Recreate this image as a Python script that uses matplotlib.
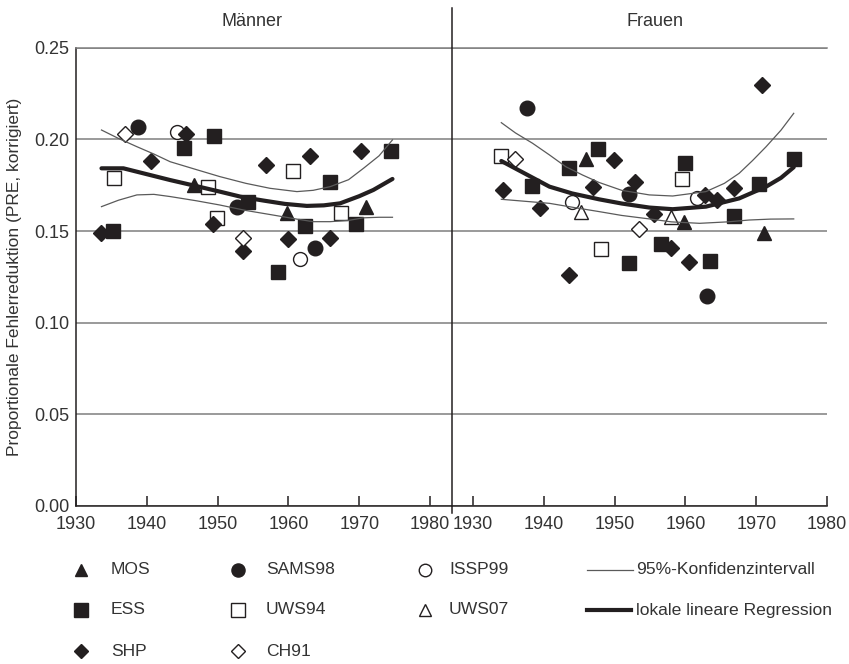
import matplotlib.pyplot as plt
from matplotlib.lines import Line2D

plt.rcParams['font.family'] = ['Liberation Sans', 'DejaVu Sans']

# Männer: (Geburtsjahr, PRE)
men_mos = [(1946.7, 0.175), (1959.8, 0.160), (1970.9, 0.163)]
men_sams98 = [(1938.8, 0.207), (1952.8, 0.163), (1963.7, 0.141)]
men_issp99 = [(1944.3, 0.204), (1961.6, 0.135)]
men_ess = [(1935.2, 0.150), (1945.2, 0.1955), (1949.5, 0.202), (1954.3, 0.166), (1958.5, 0.1275),
           (1962.4, 0.153), (1965.9, 0.1766), (1969.5, 0.1538), (1974.5, 0.1938)]
men_uws94 = [(1935.4, 0.179), (1948.7, 0.174), (1949.9, 0.157), (1960.7, 0.1828), (1967.4, 0.160)]
men_uws07 = []
men_shp = [(1933.5, 0.149), (1940.6, 0.188), (1945.6, 0.203), (1949.4, 0.154), (1953.6, 0.139),
           (1956.9, 0.186), (1959.9, 0.1455), (1963.0, 0.191), (1965.9, 0.146), (1970.3, 0.1938)]
men_ch91 = [(1936.9, 0.203), (1953.6, 0.146)]

men_fit_year = [1933.6, 1936.7, 1940, 1943.3, 1947, 1950.3, 1953.5, 1956.5, 1959.5, 1962.6,
                1965, 1967.3, 1970, 1972, 1974.7]
men_fit = [0.1842, 0.1842, 0.181, 0.1778, 0.1745, 0.1715, 0.1685, 0.1666, 0.1648, 0.1637,
           0.164, 0.1651, 0.169, 0.1724, 0.1784]
men_ci_year = [1933.6, 1936, 1938.6, 1941, 1943.3, 1947, 1950.3, 1954, 1957.4, 1961.2,
               1963.5, 1965.9, 1968.5, 1970.6, 1972.8, 1974.7]
men_ci_hi = [0.2051, 0.2005, 0.196, 0.192, 0.1878, 0.1835, 0.1797, 0.176, 0.1733, 0.1715,
             0.1722, 0.1742, 0.178, 0.1842, 0.191, 0.1997]
men_ci_lo = [0.1633, 0.1668, 0.1697, 0.170, 0.1688, 0.1665, 0.1642, 0.1612, 0.1590, 0.1565,
             0.1551, 0.1551, 0.1558, 0.1572, 0.1575, 0.1575]

# Frauen
women_mos = [(1945.9, 0.1893), (1959.8, 0.1551), (1971.1, 0.1488)]
women_sams98 = [(1937.6, 0.2173), (1952.0, 0.1702), (1963.0, 0.1147)]
women_issp99 = [(1944.0, 0.166), (1961.6, 0.1678)]
women_ess = [(1938.4, 0.1747), (1943.5, 0.1842), (1947.6, 0.1948), (1952.0, 0.1324), (1956.6, 0.1428),
             (1960.0, 0.1873), (1963.5, 0.1338), (1966.9, 0.1584), (1970.4, 0.1755), (1975.3, 0.1891)]
women_uws94 = [(1934.0, 0.1909), (1948.1, 0.1402), (1959.5, 0.1782)]
women_uws07 = [(1945.3, 0.1606), (1957.9, 0.1578)]
women_shp = [(1934.2, 0.1724), (1939.5, 0.1624), (1943.5, 0.126), (1947.0, 0.1739), (1949.9, 0.1888),
             (1952.9, 0.1769), (1955.5, 0.1593), (1958.0, 0.1409), (1960.5, 0.1329), (1962.7, 0.1697),
             (1964.4, 0.1669), (1966.9, 0.1733), (1970.8, 0.2297)]
women_ch91 = [(1935.9, 0.1893), (1953.5, 0.1511)]

women_fit_year = [1934.0, 1937.5, 1940.8, 1944, 1947.8, 1951, 1954.9, 1958.2, 1962.9,
                  1967.6, 1971.4, 1973.5, 1975.3]
women_fit = [0.1882, 0.181, 0.1742, 0.1705, 0.1673, 0.165, 0.1628, 0.1619, 0.1633,
             0.1678, 0.1742, 0.179, 0.1848]
women_hi_year = [1934.0, 1936, 1938.4, 1940.8, 1943.1, 1945.5, 1947.8, 1951, 1954.9, 1958.2,
                 1962.9, 1965.5, 1967.6, 1969.5, 1971.4, 1973.5, 1975.3]
women_ci_hi = [0.2091, 0.2035, 0.1979, 0.1915, 0.1851, 0.1805, 0.1765, 0.1722, 0.1697, 0.1691,
               0.1715, 0.176, 0.1815, 0.1885, 0.196, 0.205, 0.2142]
women_lo_year = [1934.0, 1940.8, 1944, 1947.8, 1951, 1954.9, 1958, 1962, 1966, 1969, 1972, 1975.3]
women_ci_lo = [0.1673, 0.1651, 0.163, 0.1606, 0.1585, 0.1566, 0.155, 0.1542, 0.155, 0.156,
               0.1565, 0.1566]

ink = '#231f20'
txt = '#333333'
series_names = ['MOS', 'SAMS98', 'ISSP99', 'ESS', 'UWS94', 'UWS07', 'SHP', 'CH91']
men_series = [men_mos, men_sams98, men_issp99, men_ess, men_uws94, men_uws07, men_shp, men_ch91]
women_series = [women_mos, women_sams98, women_issp99, women_ess, women_uws94, women_uws07,
                women_shp, women_ch91]
marker_style = {
    'MOS': dict(marker='^', ms=10, mfc=ink, mec=ink),
    'SAMS98': dict(marker='o', ms=10.5, mfc=ink, mec=ink),
    'ISSP99': dict(marker='o', ms=10, mfc='white', mec=ink, mew=1.0),
    'ESS': dict(marker='s', ms=10.5, mfc=ink, mec=ink),
    'UWS94': dict(marker='s', ms=10.5, mfc='white', mec=ink, mew=1.0),
    'UWS07': dict(marker='^', ms=10, mfc='white', mec=ink, mew=1.0),
    'SHP': dict(marker='D', ms=8, mfc=ink, mec=ink),
    'CH91': dict(marker='D', ms=8, mfc='white', mec=ink, mew=1.0),
}

W, H = 849, 664
fig = plt.figure(figsize=(W / 100, H / 100), dpi=100)


def axes_px(x0, x1, y0, y1):
    return fig.add_axes([x0 / W, 1 - y1 / H, (x1 - x0) / W, (y1 - y0) / H])


ax_m = axes_px(76, 452, 47.7, 506)
ax_f = axes_px(452, 827, 47.7, 506)
ax_m.set_xlim(1930, 1930 + 376 / 7.08)
ax_f.set_xlim(1980 - 375 / 7.08, 1980)

for ax, series, fit in [
    (ax_m, men_series, [(men_ci_year, men_ci_hi), (men_ci_year, men_ci_lo), (men_fit_year, men_fit)]),
    (ax_f, women_series, [(women_hi_year, women_ci_hi), (women_lo_year, women_ci_lo), (women_fit_year, women_fit)]),
]:
    for name, pts in zip(series_names, series):
        if pts:
            xs, ys = zip(*pts)
            ax.plot(xs, ys, ls='none', zorder=3, **marker_style[name])
    ax.plot(*fit[0], color='#5a5a5a', lw=0.9, zorder=4)
    ax.plot(*fit[1], color='#5a5a5a', lw=0.9, zorder=4)
    ax.plot(*fit[2], color=ink, lw=3.0, solid_capstyle='round', zorder=5)

    ax.set_ylim(0, 0.25)
    ax.set_yticks([0, 0.05, 0.10, 0.15, 0.20, 0.25])
    ax.yaxis.grid(True, color='#7f7f7f', lw=1.1)
    ax.set_axisbelow(True)
    ax.set_xticks([1930, 1940, 1950, 1960, 1970, 1980])
    ax.tick_params(axis='x', direction='in', length=7, width=1.1, color=ink,
                   labelsize=13, pad=7, labelcolor=txt)
    ax.tick_params(axis='y', length=0, labelsize=13, pad=5, labelcolor=txt)
    for side in ['right', 'left']:
        ax.spines[side].set_visible(False)
    ax.spines['top'].set_color('#7f7f7f')
    ax.spines['top'].set_linewidth(1.1)
    ax.spines['bottom'].set_color(ink)
    ax.spines['bottom'].set_linewidth(1.1)

ax_m.spines['left'].set_visible(True)
ax_m.spines['left'].set_color(ink)
ax_m.spines['left'].set_linewidth(1.1)
ax_m.set_yticklabels(['0.00', '0.05', '0.10', '0.15', '0.20', '0.25'])
ax_f.tick_params(axis='y', labelleft=False)

fig.add_artist(Line2D([452 / W, 452 / W], [1 - 8 / H, 1 - 513 / H], color=ink, lw=1.1))

fig.text(252 / W, 1 - 22 / H, 'Männer', ha='center', va='center', fontsize=13, color=txt)
fig.text(655 / W, 1 - 22 / H, 'Frauen', ha='center', va='center', fontsize=13, color=txt)
fig.text(15 / W, 1 - 277 / H, 'Proportionale Fehlerreduktion (PRE, korrigiert)', rotation=90,
         ha='center', va='center', fontsize=12.5, color=txt)

# Legende
rows_y = [570, 610, 651]
legend_cols = [
    (81, 111, ['MOS', 'ESS', 'SHP']),
    (238, 266, ['SAMS98', 'UWS94', 'CH91']),
    (425, 449, ['ISSP99', 'UWS07']),
]
for mx, tx, names in legend_cols:
    for name, ry in zip(names, rows_y):
        st = dict(marker_style[name])
        st['ms'] = st['ms'] * 0.9
        fig.add_artist(Line2D([mx / W], [1 - ry / H], ls='none', **st))
        fig.text(tx / W, 1 - ry / H, name, ha='left', va='center', fontsize=12.6, color=txt)

fig.add_artist(Line2D([587 / W, 633 / W], [1 - rows_y[0] / H] * 2, color='#5a5a5a', lw=0.9))
fig.text(636 / W, 1 - rows_y[0] / H, '95%-Konfidenzintervall', ha='left', va='center',
         fontsize=12.6, color=txt)
fig.add_artist(Line2D([587 / W, 631 / W], [1 - rows_y[1] / H] * 2, color=ink, lw=3.0))
fig.text(636 / W, 1 - rows_y[1] / H, 'lokale lineare Regression', ha='left', va='center',
         fontsize=12.6, color=txt)

fig.savefig('out.png', dpi=100)
